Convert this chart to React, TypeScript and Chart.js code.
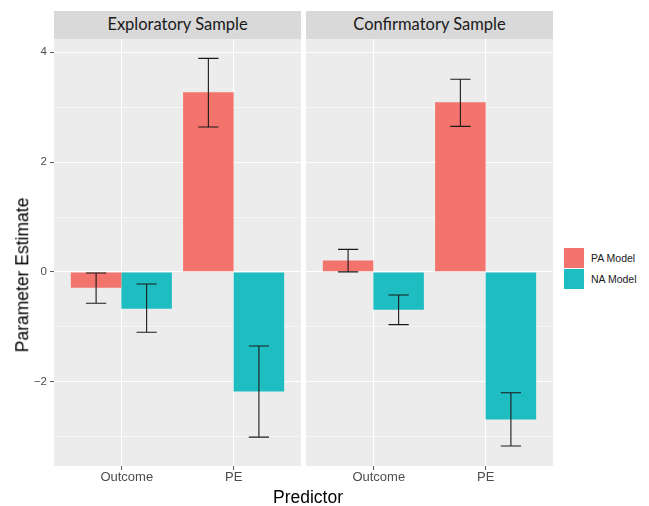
import React, { useEffect, useRef } from "react";
import Chart from "chart.js/auto";

// ---- data ----
const panels = ["Exploratory Sample", "Confirmatory Sample"];
const predictors = ["Outcome", "PE"];
const models = ["PA Model", "NA Model"];

const exploratoryPA = [-0.29, 3.27];
const exploratoryPALow = [-0.57, 2.64];
const exploratoryPAHigh = [-0.02, 3.89];
const exploratoryNA = [-0.67, -2.18];
const exploratoryNALow = [-1.1, -3.01];
const exploratoryNAHigh = [-0.22, -1.35];

const confirmatoryPA = [0.21, 3.09];
const confirmatoryPALow = [0.0, 2.65];
const confirmatoryPAHigh = [0.41, 3.51];
const confirmatoryNA = [-0.69, -2.69];
const confirmatoryNALow = [-0.96, -3.17];
const confirmatoryNAHigh = [-0.42, -2.2];

const yMajorTicks = [-2, 0, 2, 4];
const yMinorTicks = [-3, -1, 1, 3];
const yMin = -3.535;
const yMax = 4.242;

const modelColors = ["#F3746D", "#1EBDC1"];
const panelBg = "#EBECEB";
const stripBg = "#D9D9D9";

const panelData = [
  {
    values: [exploratoryPA, exploratoryNA],
    low: [exploratoryPALow, exploratoryNALow],
    high: [exploratoryPAHigh, exploratoryNAHigh],
  },
  {
    values: [confirmatoryPA, confirmatoryNA],
    low: [confirmatoryPALow, confirmatoryNALow],
    high: [confirmatoryPAHigh, confirmatoryNAHigh],
  },
];

const bgPlugin = {
  id: "panelBg",
  beforeDraw(chart: any) {
    const { ctx, chartArea } = chart;
    ctx.save();
    ctx.fillStyle = panelBg;
    ctx.fillRect(chartArea.left, chartArea.top, chartArea.right - chartArea.left, chartArea.bottom - chartArea.top);
    ctx.restore();
  },
};

const errorBarPlugin = {
  id: "errorBars",
  afterDatasetsDraw(chart: any) {
    const { ctx } = chart;
    const yScale = chart.scales.y;
    ctx.save();
    ctx.strokeStyle = "#1a1a1a";
    ctx.lineWidth = 1.1;
    chart.data.datasets.forEach((ds: any, i: number) => {
      const meta = chart.getDatasetMeta(i);
      meta.data.forEach((el: any, j: number) => {
        const lo = ds.errLow[j];
        const hi = ds.errHigh[j];
        const x = el.x;
        const half = el.width * 0.2;
        const yl = yScale.getPixelForValue(lo);
        const yh = yScale.getPixelForValue(hi);
        ctx.beginPath();
        ctx.moveTo(x, yh);
        ctx.lineTo(x, yl);
        ctx.moveTo(x - half, yh);
        ctx.lineTo(x + half, yh);
        ctx.moveTo(x - half, yl);
        ctx.lineTo(x + half, yl);
        ctx.stroke();
      });
    });
    ctx.restore();
  },
};

function zeroPadding(scale: any) {
  scale.paddingTop = 0;
  scale.paddingBottom = 0;
  scale.paddingLeft = 0;
  scale.paddingRight = 0;
}

function makeConfig(p: number, showY: boolean) {
  const d = panelData[p];
  return {
    type: "bar" as const,
    data: {
      datasets: models.map((m, i) => ({
        label: m,
        data: predictors.map((_, j) => ({ x: j + 1, y: d.values[i][j] })),
        errLow: d.low[i],
        errHigh: d.high[i],
        backgroundColor: modelColors[i],
        borderWidth: 0,
        categoryPercentage: 0.9,
        barPercentage: 1.0,
      })),
    },
    options: {
      responsive: false,
      animation: false,
      devicePixelRatio: 1,
      layout: { padding: 0 },
      plugins: { legend: { display: false }, tooltip: { enabled: false } },
      scales: {
        x: {
          type: "linear",
          min: 0.4,
          max: 2.6,
          offset: false,
          bounds: "data",
          afterBuildTicks: (scale: any) => {
            scale.ticks = predictors.map((_, j) => ({ value: j + 1 }));
          },
          afterFit: (scale: any) => {
            scale.height = 30;
            zeroPadding(scale);
          },
          grid: {
            offset: false,
            color: "#ffffff",
            lineWidth: 1.1,
            drawTicks: true,
            tickLength: 4,
            tickColor: "#555555",
            tickWidth: 1,
          },
          border: { display: false },
          ticks: {
            padding: 0,
            maxRotation: 0,
            autoSkip: false,
            color: "#4d4d4d",
            font: { family: "Liberation Sans", size: 13 },
            callback: (v: any) => {
              const idx = Math.round(v) - 1;
              const name = predictors[idx] ?? "";
              return idx === 0 ? "   " + name : name;
            },
          },
        },
        y: {
          type: "linear",
          min: yMin,
          max: yMax,
          afterBuildTicks: (scale: any) => {
            scale.ticks = [...yMinorTicks, ...yMajorTicks]
              .sort((a, b) => a - b)
              .map((v) => ({ value: v }));
          },
          afterFit: (scale: any) => {
            scale.width = showY ? 54 : 0;
            zeroPadding(scale);
          },
          grid: {
            color: "#ffffff",
            lineWidth: (c: any) => (yMajorTicks.includes(c.tick?.value) ? 1.1 : 0.55),
            drawTicks: showY,
            tickLength: 4,
            tickWidth: 1,
            tickColor: (c: any) =>
              yMajorTicks.includes(c.tick?.value) ? "#555555" : "rgba(0,0,0,0)",
          },
          border: { display: false },
          ticks: {
            display: showY,
            padding: 3,
            color: "#4d4d4d",
            font: { family: "Liberation Sans", size: 11.5 },
            callback: (v: any) =>
              yMajorTicks.includes(v) ? (v < 0 ? "\u2212" + Math.abs(v) : String(v)) : "",
          },
        },
      },
    },
    plugins: [bgPlugin, errorBarPlugin],
  };
}

function Panel({ p, left, width, showY }: { p: number; left: number; width: number; showY: boolean }) {
  const ref = useRef<HTMLCanvasElement | null>(null);
  useEffect(() => {
    if (!ref.current) return;
    const chart = new Chart(ref.current, makeConfig(p, showY) as any);
    return () => chart.destroy();
  }, [p, showY]);
  return (
    <canvas
      ref={ref}
      width={width}
      height={457}
      style={{ position: "absolute", left, top: 39, width, height: 457 }}
    />
  );
}

export default function App() {
  useEffect(() => {
    document.body.style.margin = "0";
  }, []);
  const stripStyle = (left: number): React.CSSProperties => ({
    position: "absolute",
    left,
    top: 11,
    width: 247,
    height: 28,
    background: stripBg,
    display: "flex",
    alignItems: "center",
    justifyContent: "center",
    fontFamily: "Lato",
    fontSize: 16.5,
    color: "#1a1a1a",
    paddingBottom: 2,
    boxSizing: "border-box",
  });
  return (
    <div
      style={{
        position: "absolute",
        left: 0,
        top: 0,
        width: 649,
        height: 506,
        background: "#ffffff",
        overflow: "hidden",
        fontFamily: "Liberation Sans",
      }}
    >
      <div style={stripStyle(54)}>{panels[0]}</div>
      <div style={stripStyle(306)}>{panels[1]}</div>
      <Panel p={0} left={0} width={301} showY={true} />
      <Panel p={1} left={306} width={247} showY={false} />
      <div
        style={{
          position: "absolute",
          left: 22.5,
          top: 275,
          transform: "translate(-50%, -50%) rotate(-90deg)",
          whiteSpace: "nowrap",
          fontSize: 17.5,
          lineHeight: 1,
          color: "#000",
        }}
      >
        Parameter Estimate
      </div>
      <div
        style={{
          position: "absolute",
          left: 308,
          top: 498,
          transform: "translate(-50%, -50%)",
          whiteSpace: "nowrap",
          fontSize: 17.5,
          lineHeight: 1,
          color: "#000",
        }}
      >
        Predictor
      </div>
      {models.map((m, i) => (
        <React.Fragment key={m}>
          <div
            style={{
              position: "absolute",
              left: 564,
              top: i === 0 ? 247.5 : 269.3,
              width: 20,
              height: 20,
              background: modelColors[i],
            }}
          />
          <div
            style={{
              position: "absolute",
              left: 591,
              top: i === 0 ? 257.5 : 279.3,
              transform: "translateY(-50%)",
              whiteSpace: "nowrap",
              fontSize: 10.5,
              lineHeight: 1,
              color: "#1a1a1a",
            }}
          >
            {m}
          </div>
        </React.Fragment>
      ))}
    </div>
  );
}
